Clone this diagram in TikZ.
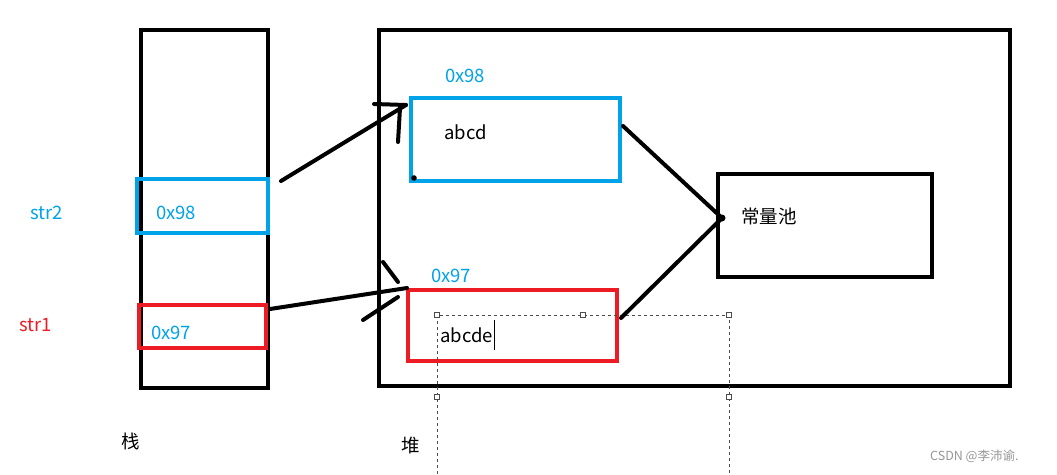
\documentclass[tikz,border=0pt]{standalone}
\usepackage{fontspec}
\setmainfont{Noto Sans CJK SC}
\definecolor{cblue}{RGB}{0,162,232}
\definecolor{cred}{RGB}{237,28,36}
\definecolor{wm}{RGB}{150,150,150}
\begin{document}
\begin{tikzpicture}[x=1pt,y=-1pt,
  frame/.style={draw=black,line width=4pt,minimum width=#1},
  bluebox/.style={draw=cblue,line width=4pt},
  redbox/.style={draw=cred,line width=4pt},
  ink/.style={line width=4pt,line cap=round},
  lbl/.style={font=\fontsize{18.5}{20}\selectfont,inner sep=0pt},
  handle/.style={draw=black!70,fill=white,line width=0.6pt,minimum size=5pt,inner sep=0pt},
  sel/.style={draw=black!70,dashed,line width=0.8pt}]
\useasboundingbox (0,0) rectangle (1057,474);
% containers
\node[frame=127pt,minimum height=358pt] (stack) at (204.5,209) {};
\node[frame=631pt,minimum height=356pt] (heap) at (694.5,208) {};
% stack slots
\node[bluebox,minimum width=131pt,minimum height=54pt] (slot2) at (202.5,206) {};
\node[redbox,minimum width=127pt,minimum height=43pt] (slot1) at (202.5,326.5) {};
% heap objects
\node[bluebox,minimum width=209pt,minimum height=83pt] (obj2) at (515.5,139.5) {};
\node[redbox,minimum width=209pt,minimum height=71pt] (obj1) at (512.5,325.5) {};
\node[frame=214pt,minimum height=103pt] (pool) at (825,225.5) {};
% texts
\node[lbl,text=cblue,anchor=west] (t2) at (30,213) {str2};
\node[lbl,text=cred,anchor=west] (t1) at (19,325) {str1};
\node[lbl,text=cblue,anchor=west] (a2) at (156,213) {0x98};
\node[lbl,text=cblue,anchor=west] (a1) at (151,333) {0x97};
\node[lbl,text=cblue,anchor=west] (h2) at (445,76) {0x98};
\node[lbl,text=cblue,anchor=west] (h1) at (431,276) {0x97};
\node[lbl,anchor=west] (v2) at (444,132) {abcd};
\node[lbl,anchor=west] (v1) at (440,335) {abcde};
\node[lbl,anchor=west] (pl) at (741,216) {常量池};
\node[lbl,anchor=west] (zh) at (121,441) {栈};
\node[lbl,anchor=west] (dui) at (401,446) {堆};
\node[font=\fontsize{12.5}{14}\selectfont,text=wm,anchor=west,inner sep=0pt] (mark) at (930,456) {CSDN @李沛谕.};
% text cursor
\draw[line width=1pt] (v1.east |- 0,320) ++(1.5,0) -- ++(0,30);
% selection box
\coordinate (s1) at (437,315);
\coordinate (s2) at (583,315);
\coordinate (s3) at (729,315);
\coordinate (s4) at (437,397);
\coordinate (s5) at (729,397);
\draw[sel] (437,480) -- (s4) -- (s1) -- (s3) -- (s5) -- (729,480);
\foreach \h in {s1,s2,s3,s4,s5} \node[handle] at (\h) {};
% hand-drawn arrow str2 -> obj2
\coordinate (p2s) at (281,181);
\coordinate (p2t) at (406,105);
\coordinate (p2h1) at (374,104);
\coordinate (p2h2) at (398,142);
\coordinate (p2h3) at (400,108);
\draw[ink] (p2s) -- (p2t);
\draw[ink] (p2h1) -- (p2t);
\draw[ink] (p2h2) -- (p2h3);
% hand-drawn arrow str1 -> obj1
\coordinate (p1s) at (270,309);
\coordinate (p1t) at (407,288);
\coordinate (p1h1) at (383,262);
\coordinate (p1h2) at (398,282);
\coordinate (p1h3) at (363,320);
\coordinate (p1h4) at (398,297);
\draw[ink] (p1s) -- (p1t);
\draw[ink] (p1h1) -- (p1h2);
\draw[ink] (p1h3) -- (p1h4);
% objects -> constant pool
\coordinate (o2e) at (623,126);
\coordinate (o1e) at (621,318);
\coordinate (pj) at (722,218);
\draw[ink] (o2e) -- (pj);
\draw[ink] (o1e) -- (pj);
\fill (pj) circle (3.5);
\fill (414,178) circle (2.8);
\end{tikzpicture}
\end{document}
